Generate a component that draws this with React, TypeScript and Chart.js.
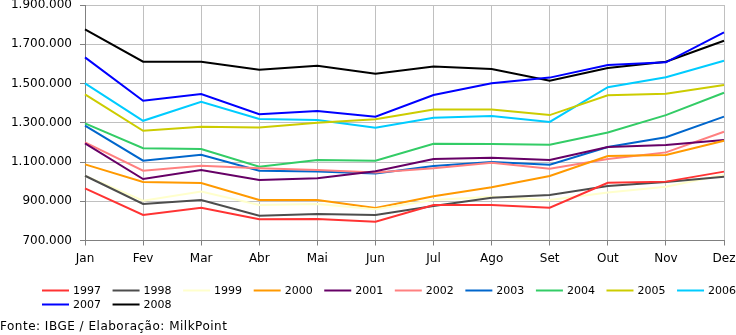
import React, { useEffect, useRef } from "react";
import { Chart, registerables } from "chart.js";

Chart.register(...registerables);

const months = ["Jan", "Fev", "Mar", "Abr", "Mai", "Jun", "Jul", "Ago", "Set", "Out", "Nov", "Dez"];
const years = ["1997", "1998", "1999", "2000", "2001", "2002", "2003", "2004", "2005", "2006", "2007", "2008"];
const colors = ["#ff3333", "#4d4d4d", "#ffffcc", "#ff9900", "#660066", "#ff8080", "#0066cc", "#33cc66", "#cccc00", "#00ccff", "#0000ff", "#000000"];

const v1997 = [966000, 830000, 867000, 808000, 810000, 796000, 881000, 881000, 867000, 994000, 1000000, 1051000];
const v1998 = [1030000, 886000, 906000, 826000, 835000, 830000, 876000, 918000, 932000, 978000, 998000, 1025000];
const v1999 = [1030000, 903000, 949000, 881000, 886000, 859000, 906000, 923000, 906000, 944000, 974000, 1035000];
const v2000 = [1088000, 998000, 993000, 906000, 906000, 866000, 925000, 971000, 1029000, 1130000, 1136000, 1208000];
const v2001 = [1195000, 1013000, 1059000, 1008000, 1017000, 1053000, 1115000, 1122000, 1110000, 1176000, 1187000, 1212000];
const v2002 = [1200000, 1056000, 1081000, 1068000, 1059000, 1047000, 1068000, 1096000, 1066000, 1115000, 1149000, 1254000];
const v2003 = [1285000, 1107000, 1137000, 1056000, 1051000, 1042000, 1080000, 1100000, 1086000, 1176000, 1226000, 1331000];
const v2004 = [1297000, 1170000, 1166000, 1076000, 1110000, 1107000, 1193000, 1192000, 1188000, 1250000, 1339000, 1453000];
const v2005 = [1445000, 1259000, 1280000, 1276000, 1300000, 1318000, 1368000, 1368000, 1339000, 1440000, 1448000, 1492000];
const v2006 = [1501000, 1310000, 1407000, 1319000, 1314000, 1275000, 1326000, 1334000, 1304000, 1481000, 1532000, 1616000];
const v2007 = [1633000, 1412000, 1446000, 1343000, 1360000, 1331000, 1441000, 1501000, 1530000, 1594000, 1608000, 1761000];
const v2008 = [1776000, 1611000, 1611000, 1570000, 1591000, 1550000, 1586000, 1574000, 1514000, 1579000, 1611000, 1718000];

const seriesValues = [v1997, v1998, v1999, v2000, v2001, v2002, v2003, v2004, v2005, v2006, v2007, v2008];

const yMin = 700000;
const yMax = 1900000;
const yStep = 200000;
const sourceText = "Fonte: IBGE / Elaboração: MilkPoint";

const FONT = "'DejaVu Sans', Verdana, sans-serif";

function fmt(v: number): string {
  return String(Math.round(v)).replace(/\B(?=(\d{3})+(?!\d))/g, ".");
}

const legendPlugin = {
  id: "customLegend",
  afterDraw(chart: any) {
    const ctx = chart.ctx as CanvasRenderingContext2D;
    ctx.save();
    ctx.font = `11px ${FONT}`;
    ctx.textBaseline = "middle";
    ctx.textAlign = "left";
    chart.data.datasets.forEach((ds: any, i: number) => {
      const row = Math.floor(i / 10);
      const col = i % 10;
      const x = 42 + col * 70.56;
      const y = 290.5 + row * 14;
      ctx.strokeStyle = ds.borderColor;
      ctx.lineWidth = 2;
      ctx.beginPath();
      ctx.moveTo(x, y);
      ctx.lineTo(x + 27, y);
      ctx.stroke();
      ctx.fillStyle = "#000";
      ctx.fillText(ds.label, x + 31, y + 0.5);
    });
    ctx.font = `12px ${FONT}`;
    (ctx as any).letterSpacing = "0.5px";
    ctx.fillStyle = "#000";
    ctx.textBaseline = "alphabetic";
    ctx.fillText(sourceText, 0, 330);
    ctx.restore();
  },
};

export default function App() {
  const ref = useRef<HTMLCanvasElement | null>(null);

  useEffect(() => {
    document.body.style.margin = "0";
    const canvas = ref.current;
    if (!canvas) return;
    const chart = new Chart(canvas, {
      type: "line",
      data: {
        labels: months,
        datasets: years.map((y, i) => ({
          label: y,
          data: seriesValues[i],
          borderColor: colors[i],
          backgroundColor: colors[i],
          borderWidth: 2,
          pointRadius: 0,
          pointHoverRadius: 0,
          tension: 0,
          fill: false,
        })),
      },
      options: {
        animation: false,
        responsive: false,
        devicePixelRatio: 1,
        layout: { padding: { top: 5, right: 12, bottom: 64.5, left: 0 } },
        plugins: {
          legend: { display: false },
          tooltip: { enabled: false },
        },
        scales: {
          x: {
            offset: false,
            grid: {
              color: "#c0c0c0",
              tickColor: "#808080",
              tickLength: 5,
              lineWidth: 1,
            },
            border: { color: "#808080" },
            ticks: {
              color: "#000",
              font: { family: FONT, size: 12 },
              padding: 6,
              maxRotation: 0,
              autoSkip: false,
            },
            afterFit(scale: any) {
              scale.height = 30;
              scale.paddingLeft = 0;
              scale.paddingRight = 0;
            },
          },
          y: {
            min: yMin,
            max: yMax,
            grid: {
              color: "#c0c0c0",
              tickColor: "#808080",
              tickLength: 5,
              lineWidth: 1,
            },
            border: { color: "#808080" },
            ticks: {
              stepSize: yStep,
              color: "#000",
              font: { family: FONT, size: 12 },
              padding: 8,
              callback: (v: any) => fmt(Number(v)),
            },
            afterFit(scale: any) {
              scale.width = 85;
              scale.paddingTop = 0;
              scale.paddingBottom = 0;
            },
          },
        },
      },
      plugins: [legendPlugin],
    });
    return () => chart.destroy();
  }, []);

  return (
    <div style={{ width: 736, height: 335, background: "#fff" }}>
      <canvas ref={ref} width={736} height={335} style={{ display: "block" }} />
    </div>
  );
}
